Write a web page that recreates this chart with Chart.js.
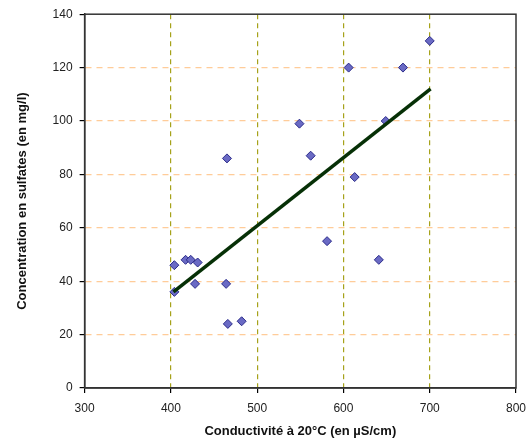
<!DOCTYPE html>
<html>
<head>
<meta charset="utf-8">
<script src="https://cdn.jsdelivr.net/npm/chart.js@4.4.1/dist/chart.umd.min.js"></script>
<style>
  body { margin: 0; background: #fff; }
  #wrap { width: 527px; height: 439px; }
</style>
</head>
<body>
<div id="wrap"><canvas id="myChart"></canvas></div>
<script>
// conductivity (µS/cm) and sulfates (mg/l)
const conductivite = [404, 404, 417, 423, 431, 428, 465, 464, 466, 482, 549, 562, 581, 606, 613, 641, 649, 669, 700];
const sulfates = [46, 36, 48, 48, 47, 39, 86, 39, 24, 25, 99, 87, 55, 120, 79, 48, 100, 120, 130];
// trend line end points
const trendX = [403, 701];
const trendY = [36, 112];
const xTicks = [300, 400, 500, 600, 700, 800];
const yTicks = [0, 20, 40, 60, 80, 100, 120, 140];

const pts = conductivite.map((x, i) => ({x: x, y: sulfates[i]}));
const trend = trendX.map((x, i) => ({x: x, y: trendY[i]}));

const frame = {
  id: 'frame',
  afterDatasetsDraw(chart) {
    const a = chart.chartArea;
    const c = chart.ctx;
    c.save();
    c.strokeStyle = '#333';
    c.lineWidth = 1.5;
    c.strokeRect(a.left, a.top, a.right - a.left, a.bottom - a.top);
    c.restore();
  }
};

const ctx = document.getElementById('myChart');
new Chart(ctx, {
  type: 'scatter',
  data: {
    datasets: [{
      label: 'mesures',
      data: pts,
      pointStyle: 'rectRot',
      pointRadius: 4.5,
      pointBackgroundColor: '#6a6ac4',
      pointBorderColor: '#2a2a8a',
      pointBorderWidth: 1,
      order: 2
    }, {
      label: 'tendance',
      data: trend,
      showLine: true,
      borderColor: '#063006',
      borderWidth: 3.5,
      pointRadius: 0,
      order: 1
    }]
  },
  options: {
    responsive: true,
    maintainAspectRatio: false,
    animation: false,
    layout: { padding: { top: 11, right: 0, left: 15, bottom: 0 } },
    plugins: { legend: { display: false }, tooltip: { enabled: false } },
    scales: {
      x: {
        type: 'linear',
        min: 300, max: 800,
        afterBuildTicks: s => { s.ticks = xTicks.map(v => ({value: v})); },
        afterFit: s => { s.paddingRight = 11; },
        grid: {
          color: c => (c.tick && (c.tick.value === 300 || c.tick.value === 800)) ? 'rgba(0,0,0,0)' : '#a6a21a',
          lineWidth: 1.2,
          tickColor: '#000',
          tickLength: 5
        },
        border: { color: '#333', width: 1.5, dash: [5, 4] },
        ticks: { color: '#222', font: { family: 'Liberation Sans', size: 12 }, padding: 8 },
        title: {
          display: true,
          text: 'Conductivité à 20°C (en µS/cm)',
          color: '#111',
          font: { family: 'Liberation Sans', size: 13, weight: 'bold' },
          padding: { top: 0, bottom: 0 }
        }
      },
      y: {
        min: 0, max: 140,
        afterBuildTicks: s => { s.ticks = yTicks.map(v => ({value: v})); },
        grid: {
          color: c => (c.tick && (c.tick.value === 0 || c.tick.value === 140)) ? 'rgba(0,0,0,0)' : '#ffcc99',
          lineWidth: 1.2,
          tickColor: '#000',
          tickLength: 5
        },
        border: { color: '#333', width: 1.5, dash: [6, 5] },
        ticks: { color: '#222', font: { family: 'Liberation Sans', size: 12 }, padding: 7 },
        title: {
          display: true,
          text: 'Concentration en sulfates (en mg/l)',
          color: '#111',
          font: { family: 'Liberation Sans', size: 13, weight: 'bold' },
          padding: { top: 0, bottom: 15 }
        }
      }
    }
  },
  plugins: [frame]
});
</script>
</body>
</html>
